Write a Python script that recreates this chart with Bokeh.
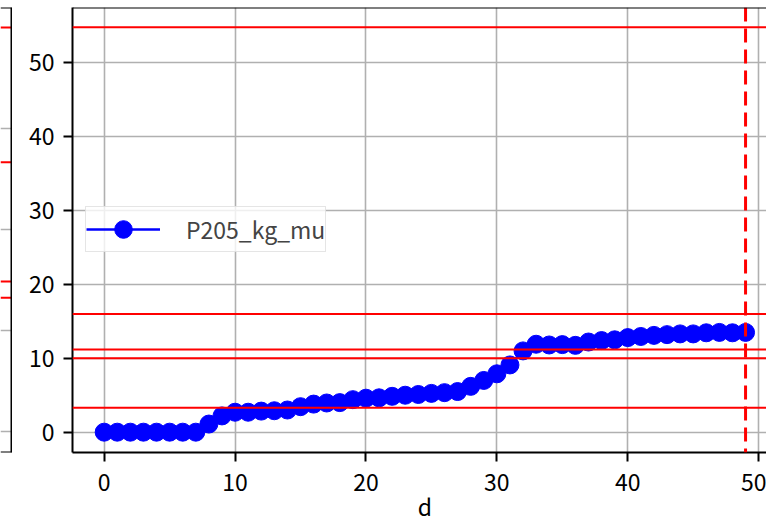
from bokeh.plotting import figure
from bokeh.layouts import row, column
from bokeh.models import Span, FixedTicker, Legend, LegendItem, Range1d
from bokeh.core.properties import value
from bokeh.embed import file_html
from bokeh.resources import INLINE

# ---- data ----
days = list(range(50))
p205_kg_mu = [0, 0, 0, 0, 0, 0, 0, 0, 1.1, 2.2,
              2.7, 2.7, 2.85, 2.9, 3.0, 3.45, 3.8, 3.95, 4.0, 4.4,
              4.6, 4.65, 4.85, 5.0, 5.1, 5.25, 5.35, 5.5, 6.2, 7.0,
              7.9, 9.1, 11.0, 11.9, 11.8, 11.85, 11.75, 12.2, 12.4, 12.5,
              12.8, 12.95, 13.1, 13.2, 13.3, 13.3, 13.45, 13.5, 13.45, 13.5]
hlines = [54.8, 16.0, 11.2, 10.0, 3.3]
vline_day = 49
x_ticks = [0, 10, 20, 30, 40, 50]
y_ticks = [0, 10, 20, 30, 40, 50]
x_label = "d"
x_label_pos = 24.5   # centre of the full x axis
series_name = "P205_kg_mu"

# neighbouring (cropped) panel on the left
left_grid = [0, 20, 40, 60]
left_hlines = [80.0, 53.3, 29.7, 26.5]

FONT = "Noto Sans CJK JP"
FS = "23px"
GRID = "#b0b0b0"

X0, X1 = -2.42, 50.60
Y0, Y1 = -2.75, 57.47
LY0, LY1 = -4.16, 83.96

TOP_H = 502   # plots + tick labels
STRIP_H = 40  # strip holding the x-axis title (overlaps the tick-label area)
OVERLAP = 20

# ---- left sliver of previous subplot ----
pl = figure(width=12, height=TOP_H, x_range=Range1d(0, 12), y_range=Range1d(LY0, LY1),
            output_backend="svg", toolbar_location=None,
            x_axis_location=None, y_axis_location=None,
            min_border_left=0, min_border_right=0, min_border_top=7, min_border_bottom=50)
pl.outline_line_color = None
pl.xgrid.visible = False
pl.ygrid.ticker = FixedTicker(ticks=left_grid)
pl.ygrid.grid_line_color = GRID
pl.ygrid.grid_line_width = 1.6
for v in left_hlines:
    pl.add_layout(Span(location=v, dimension="width", line_color="#ff0000", line_width=2))
pl.add_layout(Span(location=11, dimension="height", line_color="black", line_width=2))
pl.add_layout(Span(location=LY1, dimension="width", line_color="black", line_width=2))
pl.add_layout(Span(location=LY0, dimension="width", line_color="black", line_width=2))

# ---- main plot ----
p = figure(width=754, height=TOP_H, x_range=Range1d(X0, X1), y_range=Range1d(Y0, Y1),
           output_backend="svg", toolbar_location=None,
           min_border_left=60, min_border_right=0, min_border_top=7, min_border_bottom=50)
p.outline_line_color = None
p.background_fill_color = "white"

for ax in (p.xaxis[0], p.yaxis[0]):
    ax.axis_line_width = 2
    ax.axis_line_color = "black"
    ax.major_tick_line_width = 2
    ax.major_tick_out = 9
    ax.major_tick_in = 0
    ax.minor_tick_line_color = None
    ax.major_label_text_font = FONT
    ax.major_label_text_font_size = FS
    ax.major_label_text_color = "black"
p.xaxis.major_label_standoff = 12
p.yaxis.major_label_standoff = 9
p.xaxis.ticker = FixedTicker(ticks=x_ticks)
p.yaxis.ticker = FixedTicker(ticks=y_ticks)

p.xgrid.ticker = FixedTicker(ticks=x_ticks)
p.ygrid.ticker = FixedTicker(ticks=y_ticks)
p.grid.grid_line_color = GRID
p.grid.grid_line_width = 1.6

ln = p.line(days, p205_kg_mu, line_color="#0000ff", line_width=2.5)
sc = p.scatter(days, p205_kg_mu, size=18, fill_color="#0000ff", line_color="#0000ff")

for v in hlines:
    p.add_layout(Span(location=v, dimension="width", line_color="#ff0000", line_width=2))
p.add_layout(Span(location=vline_day, dimension="height", line_color="#ff0000",
                  line_width=3, line_dash="14 7"))
# top spine
p.add_layout(Span(location=Y1, dimension="width", line_color="black", line_width=2))

legend = Legend(items=[LegendItem(label=series_name, renderers=[ln, sc])],
                location=(13, 200), padding=0, margin=0, spacing=0,
                glyph_width=74, glyph_height=44, label_standoff=26,
                label_text_font=FONT, label_text_font_size=FS,
                label_height=44,
                border_line_color="#cccccc", border_line_width=1.5,
                background_fill_color="white", background_fill_alpha=0.8)
p.add_layout(legend)

# ---- transparent strip with the x-axis title, same x scale as the main plot ----
px_per_unit = 694 / (X1 - X0)
LX0 = X0 - 72 / px_per_unit
pb = figure(width=766, height=STRIP_H, x_range=Range1d(LX0, X1), y_range=Range1d(0, STRIP_H),
            output_backend="svg", toolbar_location=None,
            x_axis_location=None, y_axis_location=None,
            min_border_left=0, min_border_right=0, min_border_top=0, min_border_bottom=0,
            margin=(-OVERLAP, 0, 0, 0))
pb.outline_line_color = None
pb.grid.visible = False
pb.background_fill_alpha = 0
pb.border_fill_alpha = 0
pb.text(x=[x_label_pos], y=[17], text=[x_label], text_font=value(FONT),
        text_font_size=FS, text_align="center", text_baseline="middle", text_color="black")

layout = column(row(pl, p, spacing=0), pb, spacing=0)
open("out.html", "w").write(file_html(layout, INLINE))
